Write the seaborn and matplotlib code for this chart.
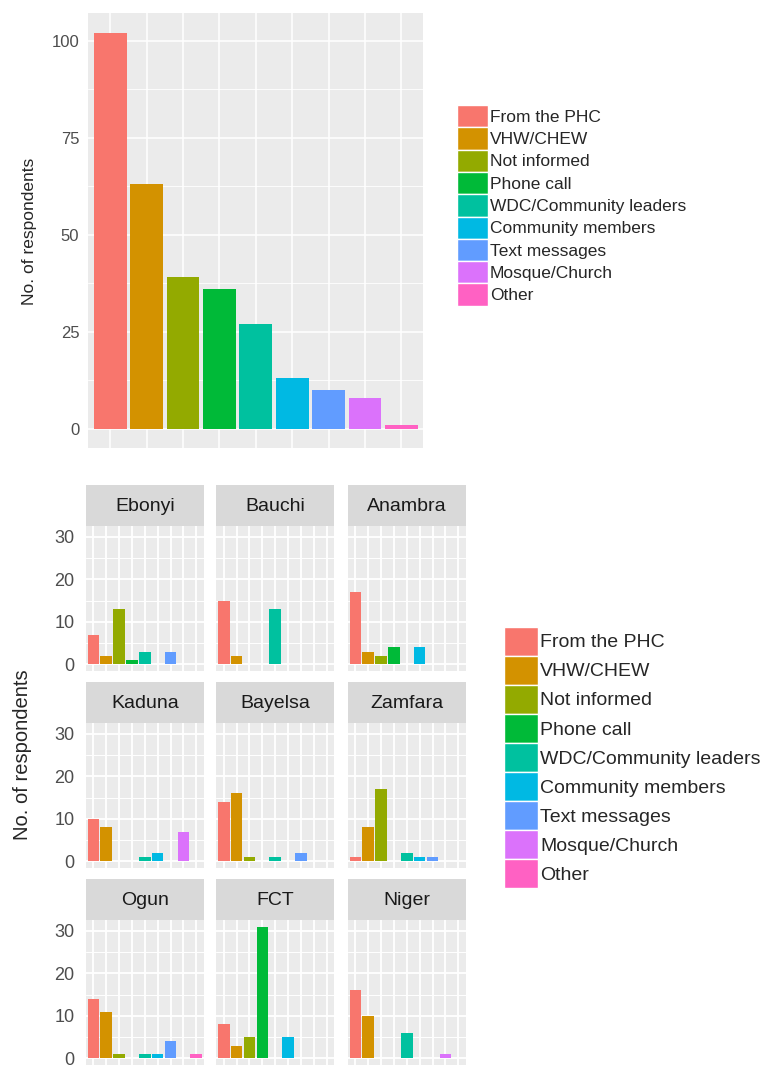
import matplotlib
matplotlib.use("Agg")
import matplotlib.pyplot as plt
from matplotlib.patches import Patch
from matplotlib.ticker import MultipleLocator
import seaborn as sns
import pandas as pd

# information sources (legend order) and ggplot default hue colours
sources = ["From the PHC", "VHW/CHEW", "Not informed", "Phone call",
           "WDC/Community leaders", "Community members", "Text messages",
           "Mosque/Church", "Other"]
colours = ["#F8766D", "#D39200", "#93AA00", "#00BA38", "#00C19F",
           "#00B9E3", "#619CFF", "#DB72FB", "#FF61C3"]

# overall counts (top chart)
totals = [102, 63, 39, 36, 27, 13, 10, 8, 1]

# counts per state (bottom facets), same order as sources
states = ["Ebonyi", "Bauchi", "Anambra", "Kaduna", "Bayelsa", "Zamfara",
          "Ogun", "FCT", "Niger"]
ebonyi = [7, 2, 13, 1, 3, 0, 3, 0, 0]
bauchi = [15, 2, 0, 0, 13, 0, 0, 0, 0]
anambra = [17, 3, 2, 4, 0, 4, 0, 0, 0]
kaduna = [10, 8, 0, 0, 1, 2, 0, 7, 0]
bayelsa = [14, 16, 1, 0, 1, 0, 2, 0, 0]
zamfara = [1, 8, 17, 0, 2, 1, 1, 0, 0]
ogun = [14, 11, 1, 0, 1, 1, 4, 0, 1]
fct = [8, 3, 5, 31, 0, 5, 0, 0, 0]
niger = [16, 10, 0, 0, 6, 0, 0, 1, 0]
state_counts = [ebonyi, bauchi, anambra, kaduna, bayelsa, zamfara, ogun, fct, niger]

top_df = pd.DataFrame({"source": sources, "count": totals})
rows = []
for st, counts in zip(states, state_counts):
    for src, n in zip(sources, counts):
        rows.append({"state": st, "source": src, "count": n})
state_df = pd.DataFrame(rows)

sns.set_style("white")
plt.rcParams["font.family"] = ["Liberation Sans", "DejaVu Sans"]

W, H = 768, 1065
fig = plt.figure(figsize=(W / 100, H / 100), dpi=100)


def box(left, top, right, bottom):
    # pixel box -> figure fraction
    return [left / W, 1 - bottom / H, (right - left) / W, (bottom - top) / H]


def gg_panel(ax, ymax, major, lw, tick_size, pad):
    ax.set_facecolor("#EBEBEB")
    for s in ax.spines.values():
        s.set_visible(False)
    ax.set_xlim(-0.6, 8.6)
    ax.set_ylim(-0.05 * ymax, 1.05 * ymax)
    ax.yaxis.set_major_locator(MultipleLocator(major))
    ax.yaxis.set_minor_locator(MultipleLocator(major / 2))
    ax.set_xticks(range(9))
    ax.grid(which="major", color="white", lw=lw)
    ax.grid(which="minor", axis="y", color="white", lw=lw * 0.55)
    ax.set_axisbelow(True)
    ax.tick_params(axis="x", length=0, labelbottom=False)
    ax.tick_params(axis="y", which="major", length=4, width=1, color="#333333",
                   labelcolor="#4D4D4D", labelsize=tick_size, pad=pad)
    ax.tick_params(axis="y", which="minor", length=0)
    ax.set_xlabel("")
    ax.set_ylabel("")


# ---- top chart: all respondents
ax_top = fig.add_axes(box(88.3, 13.3, 423.3, 448.3))
sns.barplot(data=top_df, x="source", y="count", hue="source", order=sources,
            hue_order=sources, palette=colours, width=0.9, saturation=1,
            errorbar=None, legend=False, linewidth=0, ax=ax_top)
gg_panel(ax_top, max(totals), 25, 1.1, 12, 2.5)
fig.text(30 / W, 1 - 231 / H, "No. of respondents", rotation=90,
         ha="center", va="center", fontsize=12.5)

handles = [Patch(facecolor=c, edgecolor="white", linewidth=1) for c in colours]
fig.legend(handles, sources, loc="upper left", bbox_to_anchor=(457 / W, 1 - 105 / H),
           frameon=False, fontsize=12.5, handlelength=1.78, handleheight=1.6,
           labelspacing=0, handletextpad=0.12, borderpad=0, borderaxespad=0)

# ---- bottom chart: facets by state
col_left = [85.7, 216.0, 347.7]
col_w = 118.3
row_top = [485.0, 682.0, 879.0]
strip_h = 41.0
panel_h = 145.0
ymax_states = max(max(c) for c in state_counts)

for i, st in enumerate(states):
    r, c = divmod(i, 3)
    left = col_left[c]
    top = row_top[r]
    ax_s = fig.add_axes(box(left, top, left + col_w, top + strip_h))
    ax_s.set_facecolor("#D9D9D9")
    ax_s.set_xticks([])
    ax_s.set_yticks([])
    for s in ax_s.spines.values():
        s.set_visible(False)
    ax_s.text(0.5, 0.48, st, ha="center", va="center", fontsize=14,
              color="#1A1A1A", transform=ax_s.transAxes)

    ax = fig.add_axes(box(left, top + strip_h, left + col_w, top + strip_h + panel_h))
    sub = state_df[state_df["state"] == st]
    sns.barplot(data=sub, x="source", y="count", hue="source", order=sources,
                hue_order=sources, palette=colours, width=0.9, saturation=1,
                errorbar=None, legend=False, linewidth=0, ax=ax)
    gg_panel(ax, ymax_states, 10, 1.3, 13, 4)
    if c > 0:
        ax.tick_params(axis="y", which="major", length=0, labelleft=False)

fig.text(23 / W, 1 - 755 / H, "No. of respondents", rotation=90,
         ha="center", va="center", fontsize=14.5)

fig.legend(handles, sources, loc="upper left", bbox_to_anchor=(504 / W, 1 - 626.7 / H),
           frameon=False, fontsize=14, handlelength=1.76, handleheight=1.92,
           labelspacing=0, handletextpad=0.1, borderpad=0, borderaxespad=0)

fig.savefig("out.png", dpi=100)
plt.close(fig)
